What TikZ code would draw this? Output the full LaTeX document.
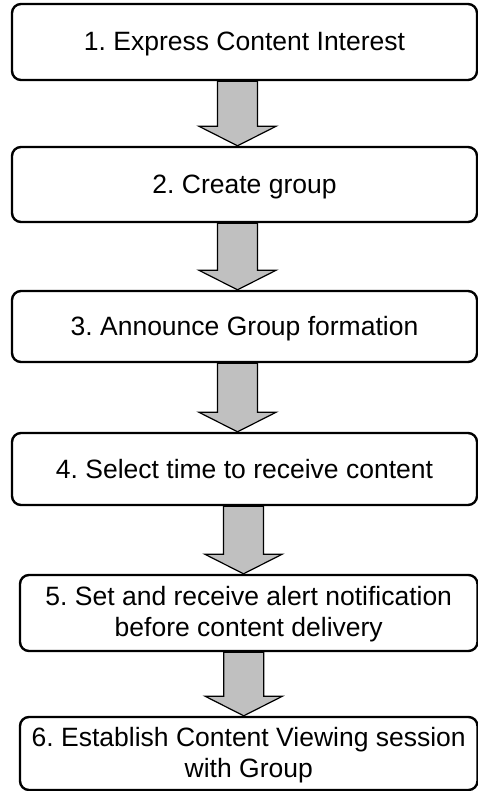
\documentclass[tikz,border=0pt]{standalone}
\usepackage{fontspec}
\setmainfont{Liberation Sans}
\frenchspacing
\usetikzlibrary{calc}
\definecolor{arrowgray}{HTML}{C0C0C0}
\tikzset{
  stepbox/.style={draw=black, line width=2.4pt, fill=white, rounded corners=9pt,
    inner sep=0pt, align=center, font=\fontsize{26.5}{31}\selectfont},
  oneline/.style={text height=19pt, text depth=1pt},
  twolines/.style={text height=50pt, text depth=3pt},
  fat/.style={draw=black, line width=1.2pt, fill=arrowgray, line join=miter},
}
\newcommand\fatarrow[3]{%
  \draw[fat] let \p1=($(#1.south)+(#3,0)$), \p2=(#2.north) in
    (\x1-20pt,\y1) -- (\x1-20pt,\y2+19.5pt) -- (\x1-38.5pt,\y2+19.5pt) -- (\x1,\y2)
    -- (\x1+38.5pt,\y2+19.5pt) -- (\x1+20pt,\y2+19.5pt) -- (\x1+20pt,\y1) -- cycle;}
\begin{document}
\begin{tikzpicture}[x=1pt,y=-1pt]
\useasboundingbox (0,0) rectangle (478,791);
\node[stepbox, oneline, minimum width=465pt, minimum height=76pt] (b1) at (244.5,42) {1. Express Content Interest};
\node[stepbox, oneline, minimum width=465pt, minimum height=75pt] (b2) at (244.5,184.5) {2. Create group};
\node[stepbox, oneline, minimum width=465pt, minimum height=71pt] (b3) at (244.5,326.5) {3. Announce Group formation};
\node[stepbox, oneline, minimum width=465pt, minimum height=72pt] (b4) at (244.5,469) {4. Select time to receive content};
\node[stepbox, twolines, minimum width=457.5pt, minimum height=76pt] (b5) at (248.75,613) {5. Set and receive alert notification\\before content delivery};
\node[stepbox, twolines, minimum width=457.5pt, minimum height=73pt] (b6) at (248.75,753.5) {6. Establish Content Viewing session\\with Group};
\fatarrow{b1}{b2}{-7}
\fatarrow{b2}{b3}{-7}
\fatarrow{b3}{b4}{-7}
\fatarrow{b4}{b5}{-1}
\fatarrow{b5}{b6}{-5}
\end{tikzpicture}
\end{document}
